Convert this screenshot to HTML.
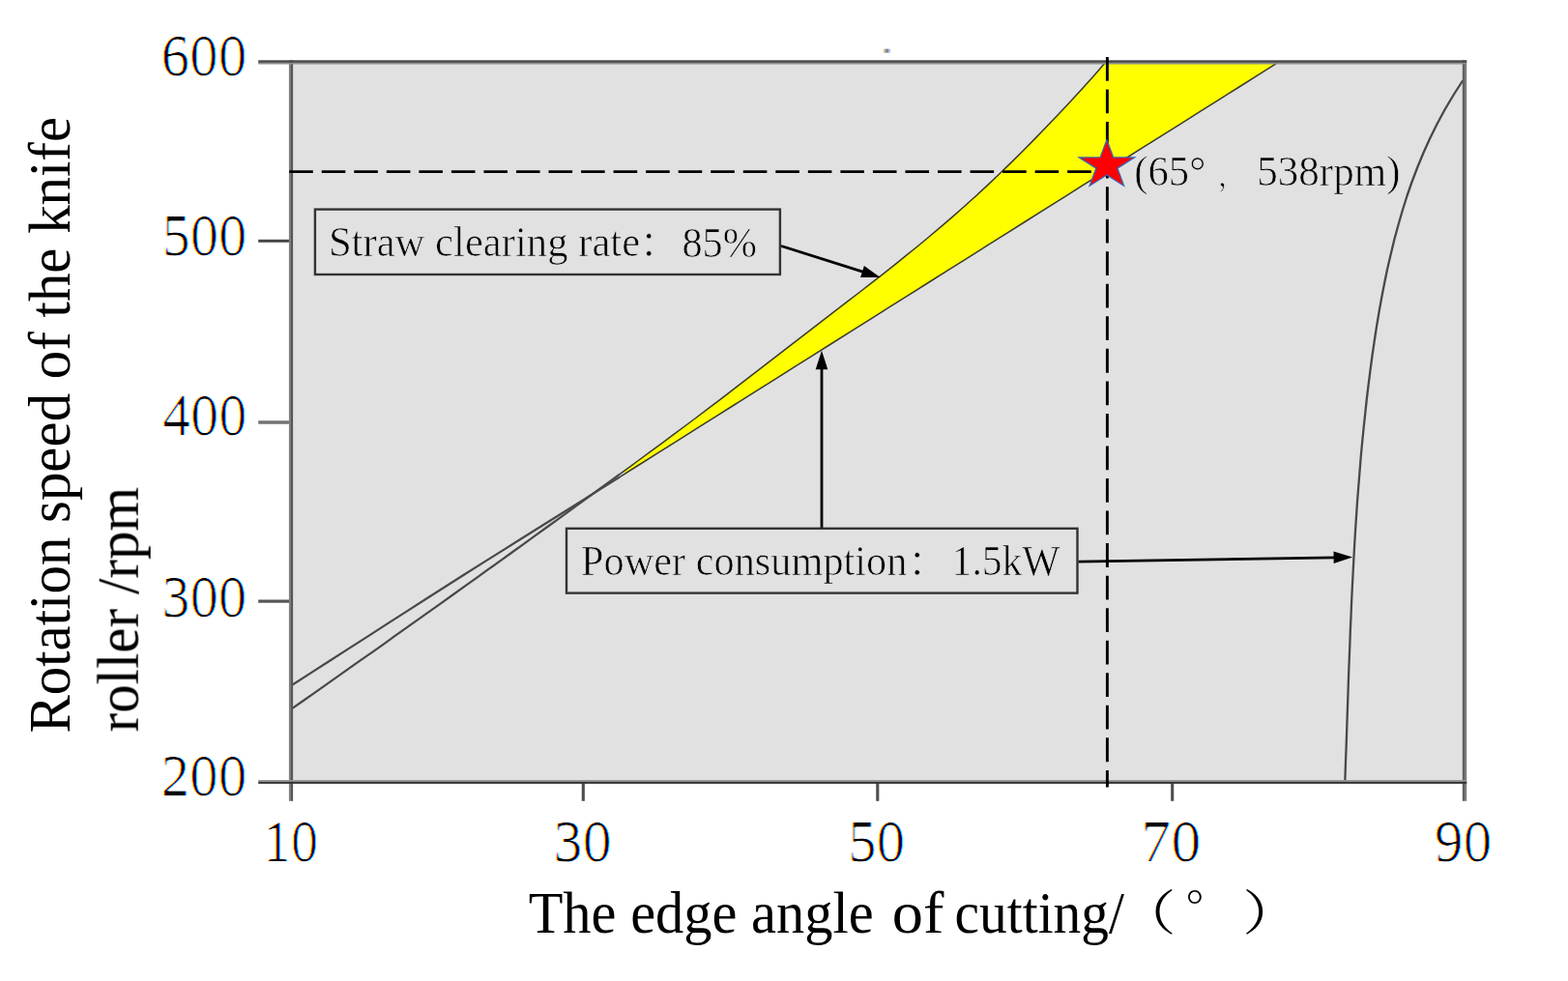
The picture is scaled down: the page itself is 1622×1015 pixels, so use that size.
<!DOCTYPE html>
<html lang="en"><head><meta charset="utf-8"><title>Rotation speed vs. edge angle of cutting</title>
<style>html,body{margin:0;padding:0;background:#fff;overflow:hidden}svg{display:block}text{font-family:"Liberation Serif","Noto Serif CJK SC",serif;fill:#000}.cjk{font-family:"Noto Serif CJK SC","Liberation Serif",serif}.cjks{font-family:"Noto Sans CJK SC","Liberation Serif",sans-serif}</style></head><body>
<svg width="1622" height="1015" viewBox="0 0 1622 1015">
<rect width="1622" height="1015" fill="#fff"/>
<defs><filter id="lcd" x="-10%" y="-10%" width="120%" height="120%" color-interpolation-filters="sRGB"><feOffset in="SourceAlpha" dx="1" dy="0" result="s1"/><feOffset in="SourceAlpha" dx="-1" dy="0" result="s2"/><feComposite in="s1" in2="s2" operator="in" result="e"/><feGaussianBlur in="e" stdDeviation="0.55 0.6" result="g"/><feComponentTransfer in="g" result="a"><feFuncA type="linear" slope="1.45" intercept="0"/></feComponentTransfer><feOffset in="a" dx="1" dy="0" result="aR"/><feOffset in="a" dx="-1" dy="0" result="aB"/><feFlood flood-color="#00ffff" result="cy"/><feComposite in="cy" in2="aR" operator="in" result="lc"/><feFlood flood-color="#ff00ff" result="mg"/><feComposite in="mg" in2="a" operator="in" result="lm"/><feFlood flood-color="#ffff00" result="ye"/><feComposite in="ye" in2="aB" operator="in" result="ly"/><feBlend in="lc" in2="lm" mode="multiply" result="b1"/><feBlend in="b1" in2="ly" mode="multiply"/></filter><filter id="soft" x="-5%" y="-5%" width="110%" height="110%"><feGaussianBlur stdDeviation="0.4"/></filter></defs>
<rect x="301.0" y="64.3" width="1214.0" height="744.7" fill="#e1e1e1"/>
<polygon points="646.0,487.0 654.0,481.1 662.0,475.3 670.0,469.4 678.0,463.5 686.0,457.6 694.0,451.6 702.0,445.7 710.0,439.7 718.0,433.7 726.0,427.7 734.0,421.7 742.0,415.6 750.0,409.5 758.0,403.4 766.0,397.2 774.0,391.1 782.0,384.9 790.0,378.7 798.0,372.5 806.0,366.3 814.0,360.2 822.0,354.0 830.0,347.8 838.0,341.7 846.0,335.5 854.0,329.4 862.0,323.2 870.0,317.1 878.0,311.0 886.0,304.8 894.0,298.6 902.0,292.4 910.0,286.2 918.0,279.9 926.0,273.5 934.0,267.1 942.0,260.7 950.0,254.1 958.0,247.5 966.0,240.9 974.0,234.1 982.0,227.2 990.0,220.2 998.0,213.2 1006.0,206.0 1014.0,198.6 1022.0,191.2 1030.0,183.6 1038.0,175.9 1046.0,168.1 1054.0,160.2 1062.0,152.2 1070.0,144.1 1078.0,135.9 1086.0,127.6 1094.0,119.2 1102.0,110.8 1110.0,102.2 1118.0,93.5 1126.0,84.6 1134.0,75.6 1142.6,65.8 1320.0,65.9 1142.6,177.6 1134.0,183.1 1126.0,188.1 1118.0,193.1 1110.0,198.2 1102.0,203.2 1094.0,208.2 1086.0,213.3 1078.0,218.3 1070.0,223.4 1062.0,228.4 1054.0,233.4 1046.0,238.5 1038.0,243.5 1030.0,248.6 1022.0,253.6 1014.0,258.6 1006.0,263.7 998.0,268.7 990.0,273.8 982.0,278.8 974.0,283.8 966.0,288.9 958.0,293.9 950.0,298.9 942.0,304.0 934.0,309.0 926.0,314.1 918.0,319.1 910.0,324.1 902.0,329.2 894.0,334.2 886.0,339.3 878.0,344.3 870.0,349.3 862.0,354.4 854.0,359.4 846.0,364.5 838.0,369.5 830.0,374.5 822.0,379.6 814.0,384.6 806.0,389.6 798.0,394.7 790.0,399.7 782.0,404.8 774.0,409.8 766.0,414.8 758.0,419.9 750.0,424.9 742.0,430.0 734.0,435.0 726.0,440.0 718.0,445.1 710.0,450.1 702.0,455.1 694.0,460.2 686.0,465.2 678.0,470.3 670.0,475.3 662.0,480.3 654.0,485.4 646.0,490.4" fill="#ffff00"/>
<polyline points="301.0,709.5 321.0,696.6 341.0,683.8 361.0,670.9 381.0,658.1 401.0,645.2 421.0,632.4 441.0,619.5 461.0,606.7 481.0,594.0 501.0,581.4 521.0,568.9 541.0,556.3 561.0,543.8 581.0,531.2 601.0,518.7 621.0,506.1 641.0,493.6 641.0,493.6" fill="none" stroke="#484848" stroke-width="2.2" stroke-linejoin="round"/>
<polyline points="641.0,493.6 661.0,481.0 681.0,468.4 701.0,455.8 721.0,443.2 741.0,430.6 761.0,418.0 781.0,405.4 801.0,392.8 821.0,380.2 841.0,367.6 861.0,355.0 881.0,342.4 901.0,329.8 921.0,317.2 941.0,304.6 961.0,292.0 981.0,279.4 1001.0,266.8 1021.0,254.2 1041.0,241.6 1061.0,229.0 1081.0,216.4 1101.0,203.8 1121.0,191.2 1141.0,178.6 1161.0,166.0 1181.0,153.4 1201.0,140.9 1221.0,128.3 1241.0,115.7 1261.0,103.1 1281.0,90.5 1301.0,77.9 1320.0,65.9" fill="none" stroke="#3a3a30" stroke-width="1.5" stroke-linejoin="round"/>
<polyline points="301.0,733.9 313.0,725.5 325.0,717.1 337.0,708.6 349.0,700.2 361.0,691.7 373.0,683.2 385.0,674.8 397.0,666.3 409.0,657.7 421.0,649.2 433.0,640.7 445.0,632.1 457.0,623.6 469.0,615.0 481.0,606.4 493.0,597.8 505.0,589.2 517.0,580.6 529.0,572.0 541.0,563.3 553.0,554.6 565.0,546.0 577.0,537.3 589.0,528.6 601.0,519.8 613.0,511.1 625.0,502.4 637.0,493.6 641.0,490.7 641.0,490.7" fill="none" stroke="#484848" stroke-width="2.2" stroke-linejoin="round"/>
<polyline points="641.0,490.7 649.0,484.8 661.0,476.0 673.0,467.2 685.0,458.3 697.0,449.4 709.0,440.5 721.0,431.5 733.0,422.4 745.0,413.3 757.0,404.1 769.0,394.9 781.0,385.7 793.0,376.4 805.0,367.1 817.0,357.8 829.0,348.6 841.0,339.3 853.0,330.1 865.0,320.9 877.0,311.7 889.0,302.5 901.0,293.2 913.0,283.8 925.0,274.3 937.0,264.7 949.0,255.0 961.0,245.0 973.0,234.9 985.0,224.6 997.0,214.0 1009.0,203.2 1021.0,192.1 1033.0,180.8 1045.0,169.1 1057.0,157.2 1069.0,145.1 1081.0,132.8 1093.0,120.3 1105.0,107.6 1117.0,94.6 1129.0,81.3 1141.0,67.6 1142.6,65.8" fill="none" stroke="#3a3a30" stroke-width="1.5" stroke-linejoin="round"/>
<polyline points="1513.4,83.0 1503.7,98.0 1494.8,113.0 1486.7,128.0 1479.3,143.0 1472.5,158.0 1466.3,173.0 1460.6,188.0 1455.4,203.0 1450.7,218.0 1446.4,233.0 1442.3,248.0 1438.7,263.0 1435.2,278.0 1432.1,293.0 1429.2,308.0 1426.5,323.0 1424.0,338.0 1421.7,353.0 1419.5,368.0 1417.5,383.0 1415.6,398.0 1413.8,413.0 1412.2,428.0 1410.6,443.0 1409.1,458.0 1407.7,473.0 1406.5,488.0 1405.3,503.0 1404.1,518.0 1403.1,533.0 1402.1,548.0 1401.2,563.0 1400.4,578.0 1399.6,593.0 1398.8,608.0 1398.1,623.0 1397.5,638.0 1396.8,653.0 1396.3,668.0 1395.7,683.0 1395.1,698.0 1394.6,713.0 1394.1,728.0 1393.6,743.0 1393.1,758.0 1392.6,773.0 1392.0,788.0 1391.5,803.0 1391.3,808.5" fill="none" stroke="#484848" stroke-width="2.3" stroke-linejoin="round"/>
<rect x="267.20" y="247.80" width="33.80" height="3.00" fill="#464646"/>
<rect x="267.20" y="435.25" width="33.80" height="3.50" fill="#747474"/>
<rect x="267.20" y="620.50" width="33.80" height="3.20" fill="#555555"/>
<rect x="601.75" y="809.00" width="3.10" height="19.80" fill="#4e4e4e"/>
<rect x="906.25" y="809.00" width="3.10" height="19.80" fill="#4e4e4e"/>
<rect x="1211.15" y="809.00" width="3.10" height="19.80" fill="#4e4e4e"/>
<rect x="298.90" y="62.40" width="2.10" height="766.40" fill="#7e7e7e"/>
<rect x="301.00" y="62.40" width="2.10" height="766.40" fill="#575757"/>
<rect x="1512.80" y="62.40" width="2.20" height="766.40" fill="#606060"/>
<rect x="1515.00" y="62.40" width="2.20" height="766.40" fill="#7a7a7a"/>
<rect x="267.20" y="62.30" width="1250.00" height="2.60" fill="#4a4a4a"/>
<rect x="267.20" y="64.90" width="1250.00" height="1.60" fill="#8e8e8e"/>
<rect x="267.20" y="807.00" width="1250.00" height="1.80" fill="#969696"/>
<rect x="267.20" y="808.80" width="1250.00" height="2.10" fill="#343434"/>
<line x1="299.2" y1="177.7" x2="1130" y2="177.7" stroke="#000" stroke-width="2.8" stroke-dasharray="24.6 8.94"/>
<line x1="1145.4" y1="59" x2="1145.4" y2="814.5" stroke="#000" stroke-width="2.9" stroke-dasharray="24.8 8.74"/>
<polygon points="1144.9,144.8 1151.7,162.9 1173.6,162.9 1155.9,174.1 1162.6,192.2 1144.9,181.0 1127.2,192.2 1133.9,174.1 1116.2,162.9 1138.1,162.9" fill="#ff0000" stroke="#3b64ad" stroke-width="1.3" stroke-linejoin="miter"/>
<line x1="808.0" y1="254.5" x2="893.9" y2="281.7" stroke="#000" stroke-width="2.8"/><polygon points="910.6,287.0 890.1,287.1 893.9,275.1" fill="#000"/>
<line x1="850.0" y1="546.0" x2="850.0" y2="380.3" stroke="#000" stroke-width="2.8"/><polygon points="850.0,362.8 856.3,382.3 843.7,382.3" fill="#000"/>
<line x1="1115.5" y1="581.2" x2="1381.6" y2="576.8" stroke="#000" stroke-width="2.8"/><polygon points="1399.1,576.5 1379.7,583.1 1379.5,570.5" fill="#000"/>
<rect x="325.90" y="216.60" width="481.00" height="67.40" fill="#e1e1e1" stroke="#333333" stroke-width="2.4"/>
<rect x="586.00" y="546.80" width="528.50" height="66.80" fill="#e1e1e1" stroke="#333333" stroke-width="2.4"/>
<g opacity="0.75"><rect x="913.4" y="50.6" width="2.1" height="4" fill="#e9c98a"/><rect x="915.3" y="50.6" width="2" height="4" fill="#6d675c"/><rect x="917.1" y="50.6" width="2" height="4" fill="#4b4b80"/><rect x="918.9" y="50.6" width="2.1" height="4" fill="#93acdf"/></g>
<g stroke="#e1e1e1" stroke-width="0.7" stroke-linejoin="round" filter="url(#soft)">
<text><tspan x="339.89" y="265.00" font-size="44.3" textLength="322.25" lengthAdjust="spacingAndGlyphs">Straw clearing rate</tspan><tspan class="cjks" x="662.20" y="264.80" font-size="36">：</tspan><tspan x="705.48" y="265.50" font-size="45.3" textLength="77.41" lengthAdjust="spacingAndGlyphs">85%</tspan></text>
<text><tspan x="601.04" y="594.80" font-size="44.3" textLength="337.40" lengthAdjust="spacingAndGlyphs">Power consumption</tspan><tspan class="cjks" x="939.80" y="595.20" font-size="36">：</tspan><tspan x="984.62" y="594.80" font-size="44.3" textLength="111.93" lengthAdjust="spacingAndGlyphs">1.5kW</tspan></text>
<text><tspan x="1173.26" y="191.60" font-size="44.3" textLength="74.03" lengthAdjust="spacingAndGlyphs">(65°</tspan><tspan class="cjk" x="1259.50" y="192.20" font-size="31">，</tspan><tspan x="1300.24" y="191.60" font-size="44.3" textLength="148.36" lengthAdjust="spacingAndGlyphs">538rpm)</tspan></text>
</g>
<g filter="url(#lcd)">
<text x="166.59" y="78.20" font-size="61" textLength="88.63" lengthAdjust="spacingAndGlyphs">600</text>
<text x="167.53" y="263.60" font-size="61" textLength="87.67" lengthAdjust="spacingAndGlyphs">500</text>
<text x="168.05" y="450.20" font-size="61" textLength="87.13" lengthAdjust="spacingAndGlyphs">400</text>
<text x="167.11" y="638.00" font-size="61" textLength="88.10" lengthAdjust="spacingAndGlyphs">300</text>
<text x="166.59" y="822.60" font-size="61" textLength="88.63" lengthAdjust="spacingAndGlyphs">200</text>
<text x="272.34" y="891.20" font-size="61" textLength="56.82" lengthAdjust="spacingAndGlyphs">10</text>
<text x="572.22" y="891.20" font-size="61" textLength="60.56" lengthAdjust="spacingAndGlyphs">30</text>
<text x="876.99" y="891.20" font-size="61" textLength="59.26" lengthAdjust="spacingAndGlyphs">50</text>
<text x="1180.02" y="891.20" font-size="61" textLength="62.22" lengthAdjust="spacingAndGlyphs">70</text>
<text x="1483.85" y="891.20" font-size="61" textLength="59.50" lengthAdjust="spacingAndGlyphs">90</text>
</g>
<g filter="url(#soft)">
<text transform="translate(71.80,758.43) rotate(-90)" font-size="61" textLength="637.54" lengthAdjust="spacingAndGlyphs">Rotation speed of the knife</text>
<text transform="translate(142.70,757.47) rotate(-90)" font-size="61" textLength="253.71" lengthAdjust="spacingAndGlyphs">roller /rpm</text>
<text><tspan x="546.64" y="964.50" font-size="61" textLength="371.70" lengthAdjust="spacingAndGlyphs">The edge angle </tspan><tspan x="922.79" y="964.50" font-size="61" textLength="69.72" lengthAdjust="spacingAndGlyphs">of </tspan><tspan x="987.62" y="964.50" font-size="61" textLength="175.33" lengthAdjust="spacingAndGlyphs">cutting/</tspan></text>
<text class="cjk" transform="translate(1156.50,961.80) scale(1,0.832)" font-size="60">（</text>
<text class="cjk" x="1227.10" y="960.10" font-size="52">°</text>
<text class="cjk" transform="translate(1285.30,961.80) scale(1,0.832)" font-size="60">）</text>
</g>
</svg></body></html>
